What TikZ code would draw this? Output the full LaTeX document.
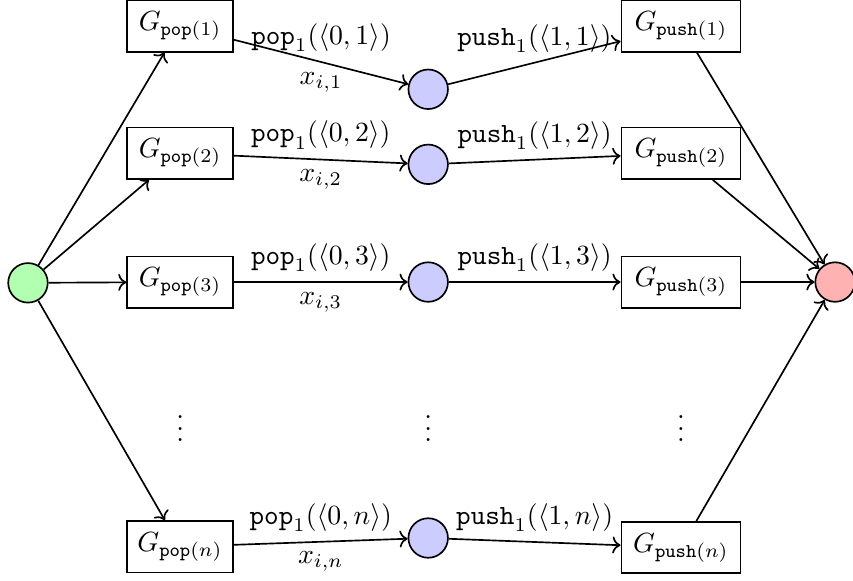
\documentclass[tikz,border=0pt]{standalone}
\usepackage{amsmath,amssymb}
\usepackage{tikz}
\usetikzlibrary{positioning,arrows.meta}

\begin{document}
\begin{tikzpicture}[
  semithick,
  gbox/.style={draw, rectangle, minimum height=0.65cm, inner sep=2pt},
  popbox/.style={gbox, minimum width=1.34cm},
  pushbox/.style={gbox, minimum width=1.51cm},
  state/.style={draw, circle, minimum size=0.5cm, inner sep=0pt},
  srcnode/.style={state, fill=green!30},
  midnode/.style={state, fill=blue!20},
  sinknode/.style={state, fill=red!30},
  flow/.style={->},
]
\useasboundingbox (0,0) rectangle (10.797,-7.342);

% source and sink
\node[srcnode] (src) at (0.354,-3.58) {};
\node[sinknode] (sink) at (10.57,-3.57) {};

% pop side
\node[popbox] (pop1) at (2.28,-0.33) {$G_{\texttt{pop}(1)}$};
\node[popbox] (pop2) at (2.28,-1.94) {$G_{\texttt{pop}(2)}$};
\node[popbox] (pop3) at (2.28,-3.57) {$G_{\texttt{pop}(3)}$};
\node[popbox] (popn) at (2.28,-6.92) {$G_{\texttt{pop}(n)}$};

% middle states
\node[midnode] (mid1) at (5.42,-1.13) {};
\node[midnode] (mid2) at (5.42,-2.08) {};
\node[midnode] (mid3) at (5.42,-3.57) {};
\node[midnode] (midn) at (5.42,-6.81) {};

% push side
\node[pushbox] (push1) at (8.62,-0.33) {$G_{\texttt{push}(1)}$};
\node[pushbox] (push2) at (8.62,-1.94) {$G_{\texttt{push}(2)}$};
\node[pushbox] (push3) at (8.62,-3.57) {$G_{\texttt{push}(3)}$};
\node[pushbox] (pushn) at (8.62,-6.93) {$G_{\texttt{push}(n)}$};

\node (dotsA) at (2.28,-5.32) {$\vdots$};
\node (dotsB) at (5.42,-5.32) {$\vdots$};
\node (dotsC) at (8.62,-5.32) {$\vdots$};

\draw[flow] (src) -- (pop1);
\draw[flow] (src) -- (pop2);
\draw[flow] (src) -- (pop3);
\draw[flow] (src) -- (popn);

\draw[flow] (pop1) -- node[above]{$\texttt{pop}_1(\langle 0,1\rangle)$} node[below]{$x_{i,1}$} (mid1);
\draw[flow] (pop2) -- node[above]{$\texttt{pop}_1(\langle 0,2\rangle)$} node[below]{$x_{i,2}$} (mid2);
\draw[flow] (pop3) -- node[above]{$\texttt{pop}_1(\langle 0,3\rangle)$} node[below]{$x_{i,3}$} (mid3);
\draw[flow] (popn) -- node[above]{$\texttt{pop}_1(\langle 0,n\rangle)$} node[below]{$x_{i,n}$} (midn);

\draw[flow] (mid1) -- node[above]{$\texttt{push}_1(\langle 1,1\rangle)$} (push1);
\draw[flow] (mid2) -- node[above]{$\texttt{push}_1(\langle 1,2\rangle)$} (push2);
\draw[flow] (mid3) -- node[above]{$\texttt{push}_1(\langle 1,3\rangle)$} (push3);
\draw[flow] (midn) -- node[above]{$\texttt{push}_1(\langle 1,n\rangle)$} (pushn);

\draw[flow] (push1) -- (sink);
\draw[flow] (push2) -- (sink);
\draw[flow] (push3) -- (sink);
\draw[flow] (pushn) -- (sink);
\end{tikzpicture}
\end{document}
